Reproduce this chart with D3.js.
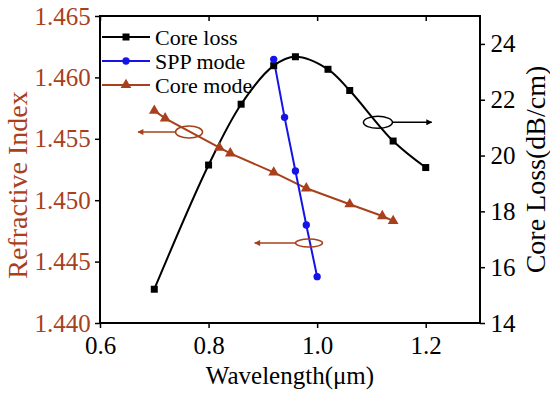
<!DOCTYPE html>
<html>
<head>
<meta charset="utf-8">
<script src="https://cdn.jsdelivr.net/npm/d3@7"></script>
<style>
  body { margin: 0; background: #fff; }
  svg text { font-family: "Liberation Serif", "DejaVu Serif", serif !important; }
</style>
</head>
<body>
<div id="chart"></div>
<script>
// wavelength (um) for each series
var lossX = [0.70, 0.80, 0.86, 0.92, 0.96, 1.02, 1.06, 1.14, 1.20];
var lossY = [15.21, 19.66, 21.84, 23.22, 23.54, 23.09, 22.33, 20.52, 19.57];

var sppX = [0.92, 0.94, 0.96, 0.98, 1.00];
var sppY = [1.46147, 1.45675, 1.45238, 1.44798, 1.44377];

var coreX = [0.70, 0.72, 0.82, 0.84, 0.92, 0.98, 1.06, 1.12, 1.14];
var coreY = [1.45729, 1.45667, 1.45428, 1.45382, 1.45226, 1.45097, 1.44967, 1.44871, 1.44831];

var xTicks = [0.6, 0.8, 1.0, 1.2];
var leftTicks = [1.440, 1.445, 1.450, 1.455, 1.460, 1.465];
var rightTicks = [14, 16, 18, 20, 22, 24];

var legendNames = ["Core loss", "SPP mode", "Core mode"];

var brown = "#a8401c";
var blue = "#1414e6";

var width = 550, height = 396;
var margin = {top: 16, right: 70, bottom: 73, left: 100};

var svg = d3.select("#chart").append("svg")
  .attr("width", width)
  .attr("height", height);

var x = d3.scaleLinear().domain([0.6, 1.3]).range([margin.left, width - margin.right]);
var yL = d3.scaleLinear().domain([1.440, 1.465]).range([height - margin.bottom, margin.top]);
var yR = d3.scaleLinear().domain([14, 25]).range([height - margin.bottom, margin.top]);

var x0 = margin.left, x1 = width - margin.right;
var y0 = height - margin.bottom, y1 = margin.top;

// minor tick helpers
function minors(scale, step) {
  var d = scale.domain(), out = [];
  for (var v = d[0]; v <= d[1] + 1e-9; v += step) out.push(+v.toFixed(6));
  return out;
}

// bottom axis
var gx = svg.append("g").attr("transform", "translate(0," + y0 + ")");
gx.call(d3.axisBottom(x).tickValues(minors(x, 0.1)).tickSize(3).tickFormat(""));
gx.call(d3.axisBottom(x).tickValues(xTicks).tickSize(5).tickFormat(d3.format(".1f")));
gx.attr("font-family", null);
gx.select(".domain").remove();
gx.selectAll("line").attr("stroke", "#000").attr("stroke-width", 1.5);
gx.selectAll("text").attr("font-size", 25).attr("fill", "#000").attr("dy", "0.9em");

// top mirror ticks (inward)
var gt = svg.append("g").attr("transform", "translate(0," + y1 + ")");
gt.call(d3.axisBottom(x).tickValues(minors(x, 0.1)).tickSize(3).tickFormat(""));
gt.call(d3.axisBottom(x).tickValues(xTicks).tickSize(5).tickFormat(""));
gt.select(".domain").remove();
gt.selectAll("line").attr("stroke", "#000").attr("stroke-width", 1.5);

// left axis
var gl = svg.append("g").attr("transform", "translate(" + x0 + ",0)");
gl.call(d3.axisLeft(yL).tickValues(minors(yL, 0.0025)).tickSize(3).tickFormat(""));
gl.call(d3.axisLeft(yL).tickValues(leftTicks).tickSize(5).tickFormat(d3.format(".3f")));
gl.attr("font-family", null);
gl.select(".domain").remove();
gl.selectAll("line").attr("stroke", "#000").attr("stroke-width", 1.5);
gl.selectAll("text").attr("font-size", 25).attr("fill", brown).attr("dx", "-0.05em");

// right axis
var gr = svg.append("g").attr("transform", "translate(" + x1 + ",0)");
gr.call(d3.axisRight(yR).tickValues(minors(yR, 1)).tickSize(3).tickFormat(""));
gr.call(d3.axisRight(yR).tickValues(rightTicks).tickSize(5).tickFormat(d3.format("d")));
gr.attr("font-family", null);
gr.select(".domain").remove();
gr.selectAll("line").attr("stroke", "#000").attr("stroke-width", 1.5);
gr.selectAll("text").attr("font-size", 25).attr("fill", "#000").attr("dx", "0.1em");

// frame
svg.append("rect")
  .attr("x", x0).attr("y", y1)
  .attr("width", x1 - x0).attr("height", y0 - y1)
  .attr("fill", "none").attr("stroke", "#000").attr("stroke-width", 2);

// axis titles
svg.append("text")
  .attr("x", (x0 + x1) / 2).attr("y", 384)
  .attr("text-anchor", "middle").attr("font-size", 25).attr("fill", "#000")
  .text("Wavelength(\u03bcm)");

svg.append("text")
  .attr("transform", "translate(27,185) rotate(-90)")
  .attr("text-anchor", "middle").attr("font-size", 28).attr("fill", brown)
  .text("Refractive Index");

svg.append("text")
  .attr("transform", "translate(545," + ((y0 + y1) / 2) + ") rotate(-90)")
  .attr("text-anchor", "middle").attr("font-size", 28).attr("fill", "#000")
  .text("Core Loss(dB/cm)");

// series
var lossData = lossX.map(function (d, i) { return [d, lossY[i]]; });
var sppData = sppX.map(function (d, i) { return [d, sppY[i]]; });
var coreData = coreX.map(function (d, i) { return [d, coreY[i]]; });

svg.append("path").datum(lossData)
  .attr("d", d3.line().x(d => x(d[0])).y(d => yR(d[1])).curve(d3.curveCatmullRom))
  .attr("fill", "none").attr("stroke", "#000").attr("stroke-width", 2);

svg.append("path").datum(coreData)
  .attr("d", d3.line().x(d => x(d[0])).y(d => yL(d[1])))
  .attr("fill", "none").attr("stroke", brown).attr("stroke-width", 2);

svg.append("path").datum(sppData)
  .attr("d", d3.line().x(d => x(d[0])).y(d => yL(d[1])))
  .attr("fill", "none").attr("stroke", blue).attr("stroke-width", 2);

var sq = d3.symbol().type(d3.symbolSquare).size(49);
var ci = d3.symbol().type(d3.symbolCircle).size(42);
var tr = d3.symbol().type(d3.symbolTriangle).size(50);

svg.selectAll(".sq").data(lossData).enter().append("path")
  .attr("d", sq).attr("transform", d => "translate(" + x(d[0]) + "," + yR(d[1]) + ")")
  .attr("fill", "#000");

svg.selectAll(".tr").data(coreData).enter().append("path")
  .attr("d", tr).attr("transform", d => "translate(" + x(d[0]) + "," + yL(d[1]) + ")")
  .attr("fill", brown);

svg.selectAll(".ci").data(sppData).enter().append("path")
  .attr("d", ci).attr("transform", d => "translate(" + x(d[0]) + "," + yL(d[1]) + ")")
  .attr("fill", blue);

// annotation ellipses + arrows (data coordinates)
var notes = [
  {cx: 0.764, cy: yL(1.45555), rx: 13.5, ry: 6, to: 0.670, color: brown},
  {cx: 1.112, cy: yR(21.19), rx: 14.5, ry: 6, to: 1.211, color: "#000"},
  {cx: 0.985, cy: yL(1.44651), rx: 13.5, ry: 4, to: 0.885, color: brown}
];

var defs = svg.append("defs");
notes.forEach(function (n, i) {
  defs.append("marker")
    .attr("id", "arr" + i)
    .attr("viewBox", "0 0 10 10").attr("refX", 9).attr("refY", 5)
    .attr("markerWidth", 10).attr("markerHeight", 6)
    .attr("markerUnits", "userSpaceOnUse")
    .attr("orient", "auto")
    .append("path").attr("d", "M0,0 L10,5 L0,10 z").attr("fill", n.color);

  svg.append("ellipse")
    .attr("cx", x(n.cx)).attr("cy", n.cy)
    .attr("rx", n.rx).attr("ry", n.ry)
    .attr("fill", "none").attr("stroke", n.color).attr("stroke-width", 1.5);

  var startX = n.to < n.cx ? x(n.cx) - n.rx : x(n.cx) + n.rx;
  svg.append("line")
    .attr("x1", startX).attr("y1", n.cy)
    .attr("x2", x(n.to)).attr("y2", n.cy)
    .attr("stroke", n.color).attr("stroke-width", 1.5)
    .attr("marker-end", "url(#arr" + i + ")");
});

// legend
var legColors = ["#000", blue, brown];
var legSyms = [sq, ci, tr];
var leg = svg.append("g");
legendNames.forEach(function (name, i) {
  var ly = 37 + i * 24;
  leg.append("line")
    .attr("x1", 102).attr("x2", 150).attr("y1", ly).attr("y2", ly)
    .attr("stroke", legColors[i]).attr("stroke-width", 2);
  leg.append("path").attr("d", legSyms[i])
    .attr("transform", "translate(126," + ly + ")")
    .attr("fill", legColors[i]);
  leg.append("text")
    .attr("x", 155).attr("y", ly).attr("dy", "0.35em")
    .attr("font-size", 22).attr("fill", "#000")
    .text(name);
});
</script>
</body>
</html>
